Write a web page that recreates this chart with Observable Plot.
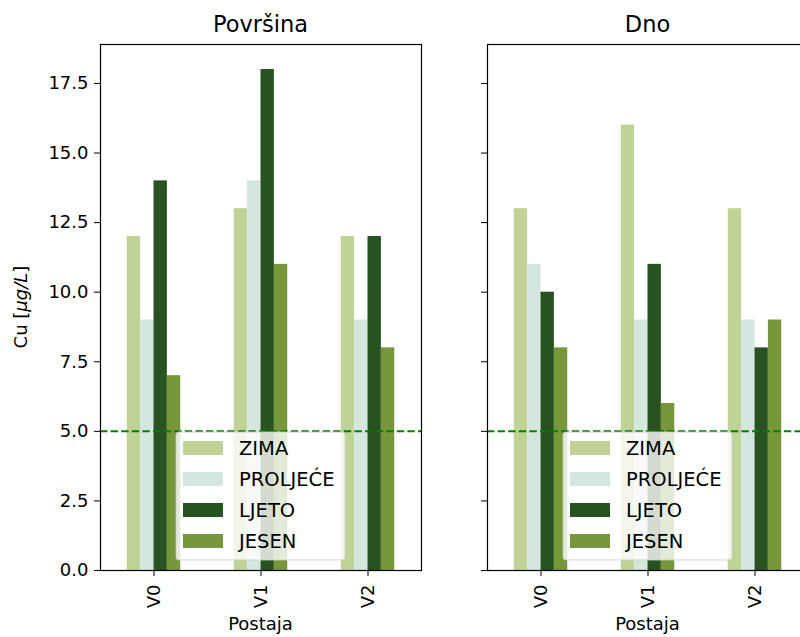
<!DOCTYPE html>
<html><head><meta charset="utf-8">
<script src="https://cdn.jsdelivr.net/npm/d3@7"></script>
<script src="https://cdn.jsdelivr.net/npm/@observablehq/plot@0.6"></script>
<style>
body{margin:0;background:#fff;}
#wrap{position:relative;width:800px;height:637px;overflow:hidden;background:#fff;font-family:"DejaVu Sans",sans-serif;}
#wrap > div{position:absolute;top:0;width:360px;height:637px;}
#wrap svg{max-width:none !important;display:block;}
</style></head><body>
<div id="wrap"><div id="left" style="left:0px;width:422px"></div><div id="right" style="left:467px;width:342px"></div></div>
<script>
const stations = ["V0", "V1", "V2"];
const seasons = ["ZIMA", "PROLJEĆE", "LJETO", "JESEN"];
const seasonColors = ["#c0d396", "#d4e6dd", "#295222", "#78963c"];
// Površina (surface)
const surfaceZima = [12, 13, 12];
const surfaceProljece = [9, 14, 9];
const surfaceLjeto = [14, 18, 12];
const surfaceJesen = [7, 11, 8];
// Dno (bottom)
const bottomZima = [13, 16, 13];
const bottomProljece = [11, 9, 9];
const bottomLjeto = [10, 11, 8];
const bottomJesen = [8, 6, 9];
const yTicks = [0, 2.5, 5, 7.5, 10, 12.5, 15, 17.5];
const limitValue = [5];
const panelTitles = ["Površina", "Dno"];
const xLabel = "Postaja";

function panel(el, title, series, marginLeft, showY) {
  const rows = [];
  seasons.forEach((s, j) => stations.forEach((st, i) => rows.push({season: s, j, i, value: series[j][i]})));
  const W = 0.125;
  const plot = Plot.plot({
    width: marginLeft + 321 + 1, height: 637,
    marginLeft, marginRight: 1, marginTop: 44, marginBottom: 67,
    style: {fontFamily: "DejaVu Sans, sans-serif", fontSize: "18px", background: "white", color: "black", overflow: "visible", maxWidth: "none"},
    x: {type: "linear", domain: [-0.5, 2.5], ticks: stations.map((_, i) => i), tickFormat: i => stations[i], tickRotate: -90, tickSize: 6, tickPadding: 8, label: null},
    y: {domain: [0, 18.9], ticks: yTicks, tickFormat: showY ? d3.format(".1f") : () => "", tickSize: 6, tickPadding: 6, label: null},
    color: {domain: seasons, range: seasonColors},
    marks: [
      Plot.rectY(rows, {x1: d => d.i + (d.j - 2) * W, x2: d => d.i + (d.j - 1) * W, y1: 0, y2: "value", fill: "season"}),
      Plot.ruleY(limitValue, {stroke: "#008000", strokeWidth: 2, strokeDasharray: "7.4,3.2"}),
      Plot.frame({stroke: "black", strokeWidth: 1.2})
    ]
  });
  const svg = d3.select(plot);
  const xs = plot.scale("x");
  const cx = (xs.apply(-0.5) + xs.apply(2.5)) / 2;
  svg.append("text").attr("x", cx).attr("y", 32).attr("text-anchor", "middle")
    .attr("font-size", 22.5).attr("fill", "black").text(title);
  svg.append("text").attr("x", cx).attr("y", 630).attr("text-anchor", "middle")
    .attr("font-size", 18).attr("fill", "black").text(xLabel);
  if (showY) {
    const t = svg.append("text").attr("transform", "translate(27,307) rotate(-90)")
      .attr("text-anchor", "middle").attr("font-size", 18).attr("fill", "black");
    t.append("tspan").text("Cu [");
    t.append("tspan").attr("font-style", "italic").text("μg/L");
    t.append("tspan").text("]");
  }
  // legend
  const lw = 169, lh = 128;
  const lx = cx - lw / 2, ly = 570 - 10 - lh;
  const g = svg.append("g");
  g.append("rect").attr("x", lx).attr("y", ly).attr("width", lw).attr("height", lh).attr("rx", 3)
    .attr("fill", "white").attr("fill-opacity", 0.8).attr("stroke", "#cccccc").attr("stroke-opacity", 0.8);
  seasons.forEach((s, j) => {
    const cy = ly + 16 + j * 31;
    g.append("rect").attr("x", lx + 7).attr("y", cy - 7).attr("width", 40).attr("height", 14).attr("fill", seasonColors[j]);
    g.append("text").attr("x", lx + 63).attr("y", cy + 7).attr("text-anchor", "start")
      .attr("font-size", 19.5).attr("fill", "black").text(s);
  });
  document.getElementById(el).appendChild(plot);
}

panel("left", panelTitles[0], [surfaceZima, surfaceProljece, surfaceLjeto, surfaceJesen], 100, true);
panel("right", panelTitles[1], [bottomZima, bottomProljece, bottomLjeto, bottomJesen], 20, false);
</script>
</body></html>
